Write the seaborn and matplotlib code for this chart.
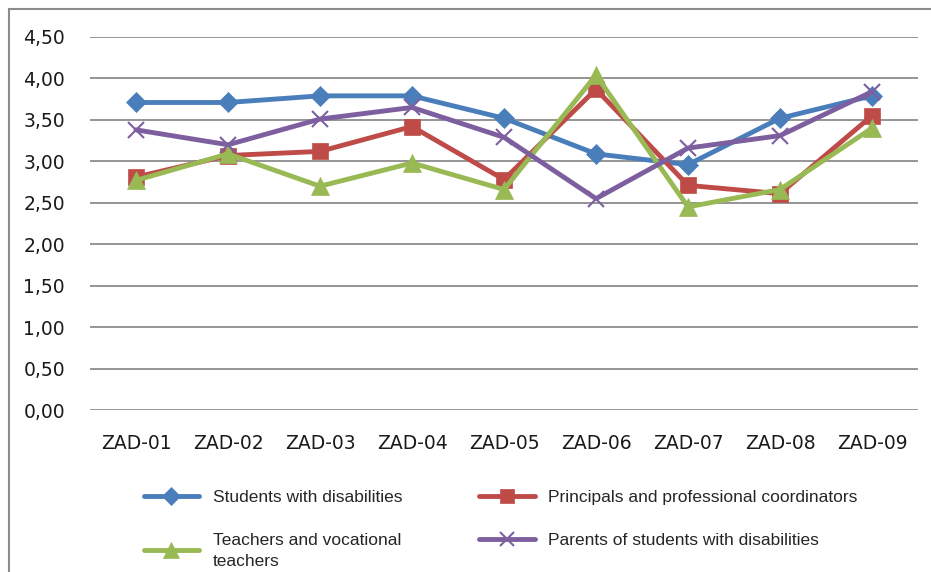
import matplotlib
matplotlib.use("Agg")
import matplotlib.pyplot as plt
import matplotlib.patches as mpatches
import seaborn as sns
import pandas as pd

# categories and series values
tasks = ["ZAD-01", "ZAD-02", "ZAD-03", "ZAD-04", "ZAD-05", "ZAD-06", "ZAD-07", "ZAD-08", "ZAD-09"]
students = [3.71, 3.71, 3.79, 3.79, 3.52, 3.09, 2.96, 3.52, 3.79]
principals = [2.81, 3.07, 3.12, 3.42, 2.78, 3.87, 2.71, 2.61, 3.55]
teachers = [2.77, 3.09, 2.70, 2.98, 2.66, 4.04, 2.45, 2.66, 3.40]
parents = [3.38, 3.20, 3.51, 3.65, 3.29, 2.55, 3.16, 3.31, 3.84]

y_ticks = [0.0, 0.5, 1.0, 1.5, 2.0, 2.5, 3.0, 3.5, 4.0, 4.5]

series = [
    ("Students with disabilities", students, "#4A7EBB", "D", 10),
    ("Principals and professional coordinators", principals, "#BE4B48", "s", 11),
    ("Teachers and vocational\nteachers", teachers, "#98B954", "^", 13),
    ("Parents of students with disabilities", parents, "#7D5FA0", "x", 11),
]

sns.set_style("white")
plt.rcParams["font.family"] = ["DejaVu Sans"]

fig = plt.figure(figsize=(9.31, 5.72), dpi=100)
ax = fig.add_axes([90 / 931, 1 - 410 / 572, 828 / 931, 373 / 572])

for name, vals, col, mk, ms in series:
    df = pd.DataFrame({"task": tasks, "value": vals})
    sns.lineplot(data=df, x="task", y="value", ax=ax, color=col, lw=3.5,
                 marker=mk, markersize=ms, markeredgecolor=col,
                 markeredgewidth=1.5 if mk == "x" else 0.5, sort=False, label=name)

ax.set_xlim(-0.5, len(tasks) - 0.5)
ax.set_ylim(0, 4.5)
ax.set_yticks(y_ticks)
ax.set_yticklabels([f"{v:.2f}".replace(".", ",") for v in y_ticks])
ax.yaxis.grid(True, color="#8C8C8C", lw=1.3)
ax.set_axisbelow(True)
for s in ax.spines.values():
    s.set_visible(False)
ax.tick_params(axis="both", length=0, labelsize=13.5, colors="#1a1a1a")
ax.tick_params(axis="y", pad=18)
ax.tick_params(axis="x", pad=17)
ax.set_xlabel("")
ax.set_ylabel("")

# legend in two columns under the plot
handles, labels = ax.get_legend_handles_labels()
ax.get_legend().remove()
order = [0, 2, 1, 3]
leg = fig.legend([handles[i] for i in order], [labels[i] for i in order],
                 ncol=2, loc="upper left", bbox_to_anchor=(128 / 931, 1 - 474 / 572),
                 frameon=False, prop={"family": "Liberation Sans", "size": 12.5},
                 handlelength=3.2, columnspacing=4.4, labelspacing=1.6, markerscale=0.9)
for t in leg.get_texts():
    t.set_linespacing(1.5)

# chart border
fig.patches.append(mpatches.Rectangle((9 / 931, -0.1), 1.2, 1 - 9 / 572 + 0.1,
                                      transform=fig.transFigure, fill=False,
                                      edgecolor="#8C8C8C", lw=1.5))

fig.savefig("out.png", dpi=100)
